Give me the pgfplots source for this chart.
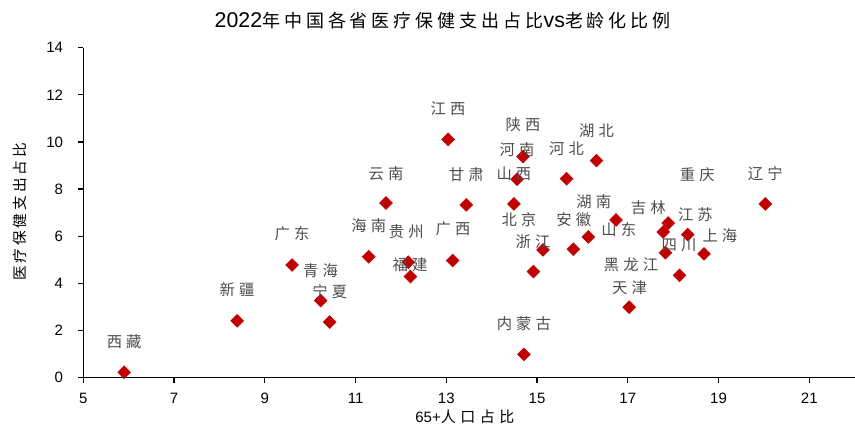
\documentclass[border=0pt]{standalone}
\usepackage{fontspec}
\setmainfont{Liberation Sans}
\newfontfamily\cjkT[LetterSpace=22]{Noto Sans CJK SC}
\newfontfamily\cjkP[LetterSpace=27]{Noto Sans CJK SC}
\newfontfamily\cjkX[LetterSpace=30]{Noto Sans CJK SC}
\newfontfamily\cjkY[LetterSpace=20]{Noto Sans CJK SC}
\usepackage{pgfplots}
\usepackage{pgfplotstable}
\pgfplotsset{compat=1.18}
\definecolor{mk}{HTML}{C00000}
\definecolor{lbl}{HTML}{4D4D4D}

\pgfplotstableread{
x y
5.90 0.23
8.39 2.41
9.60 4.78
10.23 3.27
10.43 2.36
11.29 5.13
11.67 7.41
12.16 4.90
12.21 4.29
13.04 10.11
13.14 4.97
13.44 7.33
14.49 7.37
14.56 8.42
14.69 9.38
14.71 0.99
15.13 5.42
14.92 4.50
15.80 5.45
16.13 5.97
15.65 8.44
16.31 9.21
16.74 6.69
17.89 6.56
17.78 6.18
17.83 5.30
18.14 4.34
17.03 2.99
18.32 6.07
18.68 5.25
20.03 7.37
}\pts

\pgfplotstableread{
x y name
13.04 11.39 江西
14.69 10.72 陕西
16.31 10.47 湖北
14.56 9.69 河南
15.65 9.73 河北
13.44 8.60 甘肃
14.49 8.67 山西
18.53 8.63 重庆
20.03 8.67 辽宁
16.25 7.47 湖南
17.45 7.23 吉林
14.60 6.72 北京
15.81 6.72 安徽
18.49 6.93 江苏
13.15 6.30 广西
12.12 6.18 贵州
11.29 6.44 海南
16.80 6.30 山东
19.03 6.02 上海
14.91 5.77 浙江
18.13 5.63 四川
12.20 4.78 福建
17.07 4.78 黑龙江
17.04 3.83 天津
14.71 2.27 内蒙古
11.67 8.67 云南
9.60 6.10 广东
10.23 4.54 青海
10.43 3.65 宁夏
8.39 3.72 新疆
5.90 1.53 西藏
}\lbls

\begin{document}
\begin{tikzpicture}
\begin{axis}[
  name=ax,
  scale only axis,
  width=578.5pt, height=247.5pt,
  xmin=5, xmax=22, ymin=0, ymax=14,
  xtick={5,7,...,21}, ytick={0,2,...,14},
  axis x line*=bottom, axis y line*=left,
  axis line style={line width=1pt, black},
  tick style={line width=1pt, black},
  tick align=outside,
  major tick length=3.75pt,
  ticklabel style={font=\fontsize{11.25}{13}\selectfont},
  yticklabel style={xshift=-8pt},
  xticklabel style={yshift=-4.5pt},
  /pgf/number format/assume math mode=true,
  clip=false,
]
\addplot[only marks, mark=square*, mark size=3.4pt, color=mk,
  mark options={rotate=45, fill=mk, draw=mk}] table[x=x,y=y] {\pts};
\addplot[draw=none, mark=none, nodes near coords, point meta=explicit symbolic,
  nodes near coords style={anchor=center, text=lbl, inner sep=0pt,
  font=\cjkP\fontsize{11.5}{13}\selectfont}] table[x=x,y=y,meta=name] {\lbls};
\node[anchor=center] at (rel axis cs:0.466,1.082)
  {\fontsize{16}{18}\selectfont 2022{\cjkT\fontsize{13.5}{15}\selectfont 年中国各省医疗保健支出占比}vs{\cjkT\fontsize{13.5}{15}\selectfont 老龄化比例}};
\node[anchor=center] at (rel axis cs:0.4946,-0.119)
  {\fontsize{11.25}{13}\selectfont 65+{\cjkX\fontsize{11.25}{13}\selectfont 人口占比}};
\node[anchor=center, rotate=90] at (rel axis cs:-0.082,0.502)
  {\cjkY\fontsize{11}{13}\selectfont 医疗保健支出占比};
\end{axis}
\pgfresetboundingbox
\useasboundingbox ([xshift=-62.5pt,yshift=-43pt]ax.south west) rectangle ([xshift=0.25pt,yshift=35.75pt]ax.north east);
\end{tikzpicture}
\end{document}
